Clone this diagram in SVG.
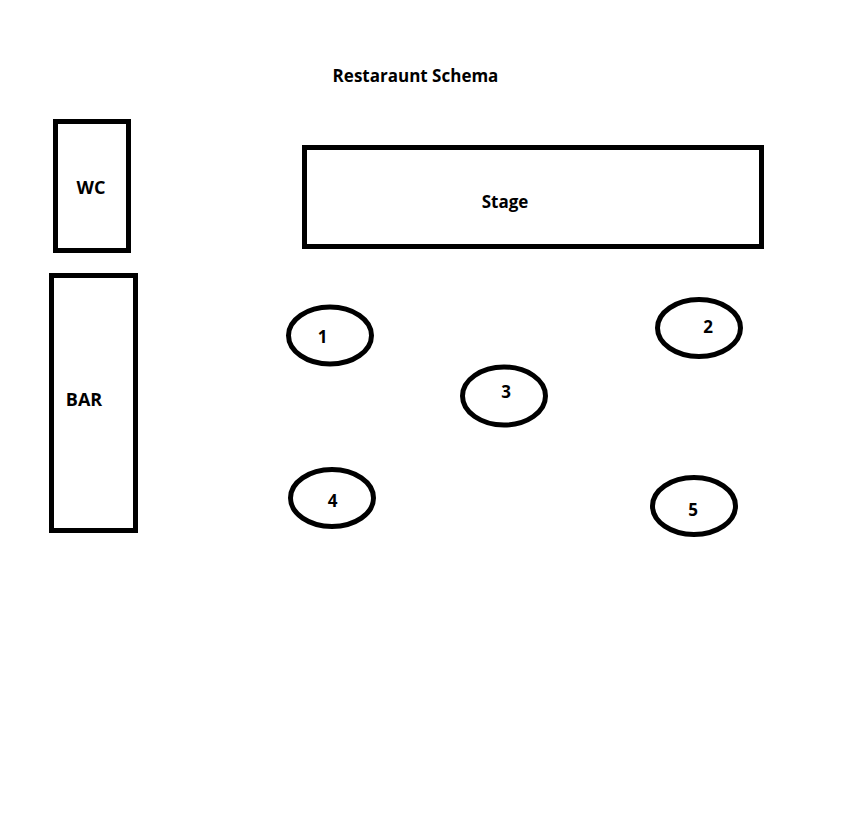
<svg xmlns="http://www.w3.org/2000/svg" width="864" height="826" viewBox="0 0 864 826">
<style>
.s{fill:#fff;stroke:#000;stroke-width:5}
.t{font-family:"Open Sans","Liberation Sans",sans-serif;font-weight:700;font-size:17px;fill:#000;text-anchor:middle}
.l{font-size:18px}
</style>
<rect width="864" height="826" fill="#fff"/>
<text id="title" class="t" x="415.500" y="82">Restaraunt Schema</text>
<g id="wc"><rect class="s" x="55.500" y="121.500" width="73" height="129"/><text class="t l" x="91" y="193.500">WC</text></g>
<g id="stage"><rect class="s" x="304.500" y="147.500" width="457" height="99"/><text class="t" x="505" y="208">Stage</text></g>
<g id="bar"><rect class="s" x="51.500" y="275.500" width="84" height="255"/><text class="t l" x="84" y="406">BAR</text></g>
<g id="table1"><ellipse class="s" cx="330" cy="335.500" rx="41.500" ry="28.500"/><text class="t" x="322.500" y="343">1</text></g>
<g id="table2"><ellipse class="s" cx="699" cy="328" rx="41.500" ry="28.500"/><text class="t" x="708" y="333">2</text></g>
<g id="table3"><ellipse class="s" cx="504" cy="396" rx="41.500" ry="29"/><text class="t" x="506" y="397.500">3</text></g>
<g id="table4"><ellipse class="s" cx="332" cy="498" rx="41.500" ry="28.500"/><text class="t" x="332.500" y="506.500">4</text></g>
<g id="table5"><ellipse class="s" cx="694" cy="506" rx="41.500" ry="28.500"/><text class="t" x="693" y="515.500">5</text></g>
<g id="connectors"/>
</svg>
